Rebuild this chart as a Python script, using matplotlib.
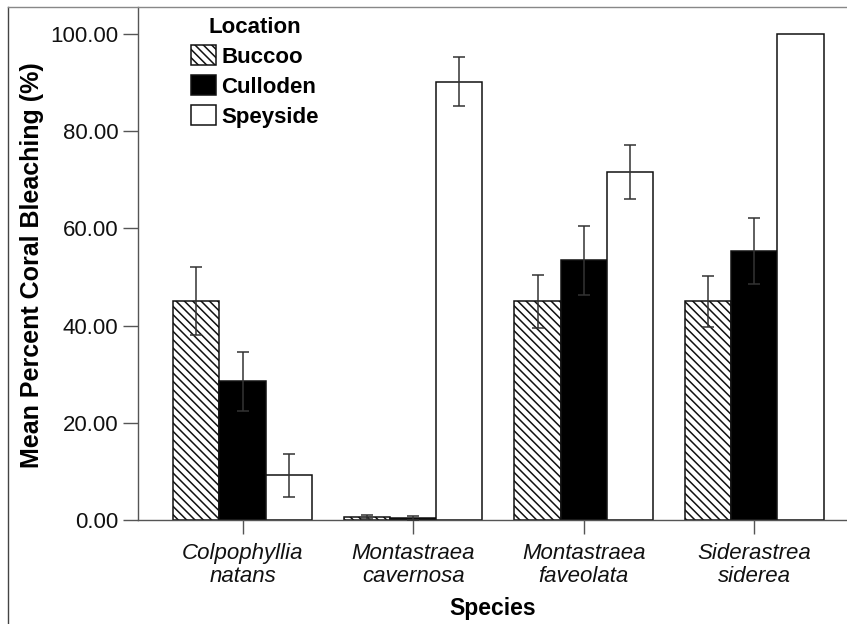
import numpy as np
import matplotlib
matplotlib.use("Agg")
import matplotlib.pyplot as plt
from matplotlib.lines import Line2D

plt.rcParams['font.family'] = ['Liberation Sans', 'DejaVu Sans']
plt.rcParams['hatch.linewidth'] = 1.1

species = ["Colpophyllia\nnatans", "Montastraea\ncavernosa",
           "Montastraea\nfaveolata", "Siderastrea\nsiderea"]
locations = ["Buccoo", "Culloden", "Speyside"]

buccoo = [45.0, 0.7, 45.0, 45.0]
buccoo_err = [7.0, 0.4, 5.4, 5.3]
culloden = [28.5, 0.5, 53.4, 55.3]
culloden_err = [6.0, 0.4, 7.0, 6.8]
speyside = [9.2, 90.2, 71.6, 100.0]
speyside_err = [4.4, 5.0, 5.6, 0.0]

yticks = [0, 20, 40, 60, 80, 100]

W, H = 847, 624
fig = plt.figure(figsize=(W / 100, H / 100), dpi=100)
ax = fig.add_axes([138 / W, (H - 520) / H, (W - 138) / W, 513 / H])

x = np.arange(len(species))
bw = 0.271
series = [(buccoo, buccoo_err, 'white', '\\\\\\\\'),
          (culloden, culloden_err, 'black', None),
          (speyside, speyside_err, 'white', None)]
for i, (vals, errs, fc, hatch) in enumerate(series):
    xi = x + (i - 1) * bw
    ax.bar(xi, vals, width=bw, color=fc, edgecolor='#111111', linewidth=1.1,
           hatch=hatch, label=locations[i], zorder=2)
    errs = np.array(errs)
    m = errs > 0
    ax.errorbar(xi[m], np.array(vals)[m], yerr=errs[m], fmt='none',
                ecolor='#333333', elinewidth=1.1, capsize=4, capthick=1.1, zorder=3)

ax.set_xlim(-0.6125, 3.543)
ax.set_ylim(0, 105.56)
ax.set_yticks(yticks)
ax.set_yticklabels([f"{v:.2f}" for v in yticks])
ax.set_xticks(x)
ax.set_xticklabels(species, fontstyle='italic', fontsize=16, linespacing=1.1)

for s in ['top', 'right']:
    ax.spines[s].set_visible(False)
for s in ['left', 'bottom']:
    ax.spines[s].set_color('#555555')
    ax.spines[s].set_linewidth(1.0)
ax.tick_params(axis='y', length=10.8, width=1.0, color='#555555', pad=3.4,
               labelsize=16, labelcolor='#111111')
ax.tick_params(axis='x', length=10, width=1.0, color='#555555', pad=6.5,
               labelcolor='#111111')

ax.set_ylabel("Mean Percent Coral Bleaching (%)", fontsize=18, fontweight='bold',
              va='center')
ax.yaxis.set_label_coords((32 - 138) / (W - 138), 0.497)
ax.set_xlabel("Species", fontsize=16.5, fontweight='bold', va='center')
ax.xaxis.set_label_coords(0.5, (520 - 609) / 513)

leg = ax.legend(title="Location", loc='upper left',
                bbox_to_anchor=(191 / W, 1 - 17 / H), bbox_transform=fig.transFigure,
                frameon=False, borderpad=0, borderaxespad=0,
                prop={'weight': 'bold', 'size': 16},
                title_fontproperties={'weight': 'bold', 'size': 16},
                handlelength=1.13, handleheight=1.0, handletextpad=0.22,
                labelspacing=0.33)

# outer frame of the original chart
fig.add_artist(Line2D([7.5 / W, 7.5 / W], [0, 1 - 7 / H], color='#444444', lw=1.0))
fig.add_artist(Line2D([7.5 / W, 1], [1 - 7 / H, 1 - 7 / H], color='#888888', lw=1.0))

fig.savefig("out.png", dpi=100)
